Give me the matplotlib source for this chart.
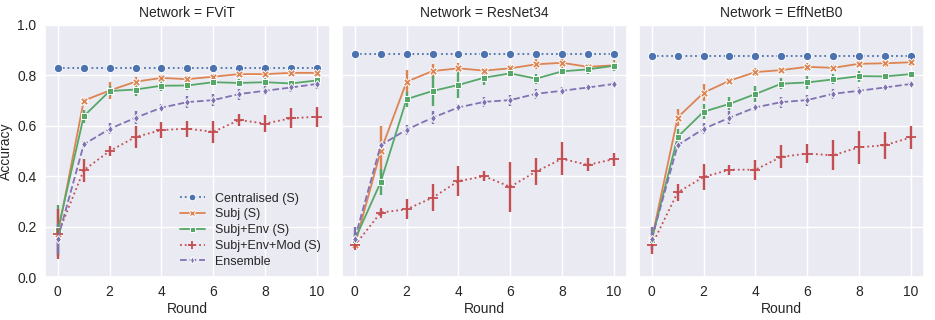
import numpy as np
import matplotlib
matplotlib.use("Agg")
import matplotlib.pyplot as plt
import seaborn as sns

rounds = list(range(11))
networks = ["FViT", "ResNet34", "EffNetB0"]
methods = ["Centralised (S)", "Subj (S)", "Subj+Env (S)", "Subj+Env+Mod (S)", "Ensemble"]

# mean accuracy per network and method
acc = {
    "FViT": {
        "Centralised (S)": [0.83] * 11,
        "Subj (S)": [0.17, 0.70, 0.74, 0.775, 0.79, 0.785, 0.795, 0.805, 0.805, 0.81, 0.81],
        "Subj+Env (S)": [0.185, 0.638, 0.738, 0.744, 0.759, 0.76, 0.773, 0.77, 0.773, 0.768, 0.78],
        "Subj+Env+Mod (S)": [0.17, 0.424, 0.50, 0.556, 0.583, 0.589, 0.576, 0.623, 0.609, 0.63, 0.636],
        "Ensemble": [0.152, 0.526, 0.588, 0.632, 0.672, 0.694, 0.702, 0.726, 0.739, 0.752, 0.766],
    },
    "ResNet34": {
        "Centralised (S)": [0.886] * 11,
        "Subj (S)": [0.126, 0.50, 0.775, 0.817, 0.828, 0.819, 0.828, 0.844, 0.85, 0.834, 0.84],
        "Subj+Env (S)": [0.148, 0.377, 0.706, 0.738, 0.762, 0.791, 0.808, 0.787, 0.816, 0.824, 0.838],
        "Subj+Env+Mod (S)": [0.126, 0.256, 0.269, 0.315, 0.381, 0.40, 0.358, 0.419, 0.469, 0.445, 0.468],
        "Ensemble": [0.152, 0.523, 0.585, 0.632, 0.673, 0.695, 0.702, 0.727, 0.739, 0.752, 0.766],
    },
    "EffNetB0": {
        "Centralised (S)": [0.877] * 11,
        "Subj (S)": [0.15, 0.633, 0.731, 0.779, 0.813, 0.821, 0.834, 0.83, 0.846, 0.848, 0.852],
        "Subj+Env (S)": [0.148, 0.556, 0.656, 0.687, 0.726, 0.767, 0.772, 0.784, 0.797, 0.796, 0.805],
        "Subj+Env+Mod (S)": [0.126, 0.336, 0.397, 0.426, 0.426, 0.477, 0.49, 0.483, 0.515, 0.523, 0.554],
        "Ensemble": [0.152, 0.523, 0.588, 0.632, 0.673, 0.694, 0.702, 0.727, 0.739, 0.752, 0.766],
    },
}

# half-width of the error bars
err = {
    "FViT": {
        "Centralised (S)": [0.003] * 11,
        "Subj (S)": [0.02, 0.01, 0.035, 0.02, 0.01, 0.012, 0.012, 0.012, 0.012, 0.01, 0.01],
        "Subj+Env (S)": [0.1, 0.025, 0.02, 0.025, 0.022, 0.018, 0.015, 0.015, 0.015, 0.015, 0.015],
        "Subj+Env+Mod (S)": [0.1, 0.045, 0.02, 0.045, 0.032, 0.032, 0.045, 0.025, 0.032, 0.04, 0.04],
        "Ensemble": [0.06, 0.015, 0.022, 0.025, 0.015, 0.025, 0.025, 0.022, 0.018, 0.018, 0.018],
    },
    "ResNet34": {
        "Centralised (S)": [0.006] * 11,
        "Subj (S)": [0.013, 0.1, 0.045, 0.03, 0.02, 0.012, 0.012, 0.02, 0.02, 0.012, 0.02],
        "Subj+Env (S)": [0.025, 0.05, 0.03, 0.06, 0.05, 0.03, 0.015, 0.02, 0.015, 0.02, 0.02],
        "Subj+Env+Mod (S)": [0.02, 0.015, 0.04, 0.053, 0.06, 0.02, 0.1, 0.053, 0.066, 0.026, 0.026],
        "Ensemble": [0.045, 0.013, 0.02, 0.025, 0.013, 0.02, 0.022, 0.02, 0.015, 0.015, 0.013],
    },
    "EffNetB0": {
        "Centralised (S)": [0.003] * 11,
        "Subj (S)": [0.013, 0.033, 0.033, 0.01, 0.015, 0.01, 0.015, 0.013, 0.013, 0.013, 0.013],
        "Subj+Env (S)": [0.025, 0.033, 0.03, 0.026, 0.033, 0.022, 0.025, 0.02, 0.022, 0.015, 0.013],
        "Subj+Env+Mod (S)": [0.033, 0.033, 0.053, 0.02, 0.04, 0.046, 0.037, 0.06, 0.066, 0.053, 0.044],
        "Ensemble": [0.045, 0.015, 0.022, 0.025, 0.013, 0.022, 0.022, 0.02, 0.015, 0.015, 0.013],
    },
}

sns.set_theme(style="darkgrid")
plt.rcParams["font.family"] = ["Liberation Sans", "DejaVu Sans"]
colors = sns.color_palette("deep", 5)
markers = ["o", "X", "s", "+", "d"]
linestyles = [":", "-", "-", ":", "--"]
msizes = [6, 5.5, 4.5, 7, 4.5]

fig, axes = plt.subplots(1, 3, figsize=(9.35, 3.2), dpi=100, sharey=True)
fig.subplots_adjust(left=0.048, right=0.988, top=0.922, bottom=0.134, wspace=0.042)

for ax, net in zip(axes, networks):
    for i, m in enumerate(methods):
        ax.errorbar(rounds, acc[net][m], yerr=err[net][m], color=colors[i],
                    ecolor=colors[i], elinewidth=1.7, capsize=0, fmt="none", zorder=2)
        filled = markers[i] != "+"
        ax.plot(rounds, acc[net][m], color=colors[i], linestyle=linestyles[i],
                linewidth=1.3, marker=markers[i], markersize=msizes[i],
                markeredgecolor="white" if filled else colors[i],
                markeredgewidth=0.7 if filled else 1.3,
                label=m, zorder=3)
    ax.set_title(f"Network = {net}", fontsize=10, pad=6)
    ax.set_xlabel("Round", fontsize=10, labelpad=2)
    ax.set_xticks([0, 2, 4, 6, 8, 10])
    ax.set_ylim(0, 1.0)
    ax.tick_params(labelsize=10, length=0, pad=6)

axes[0].set_ylabel("Accuracy", fontsize=10, labelpad=3)
axes[0].legend(loc="lower right", frameon=False, fontsize=9, handlelength=2.0,
               labelspacing=0.3, handletextpad=0.8, markerscale=0.8,
               borderaxespad=0.35)

fig.savefig("out.png", dpi=100)
